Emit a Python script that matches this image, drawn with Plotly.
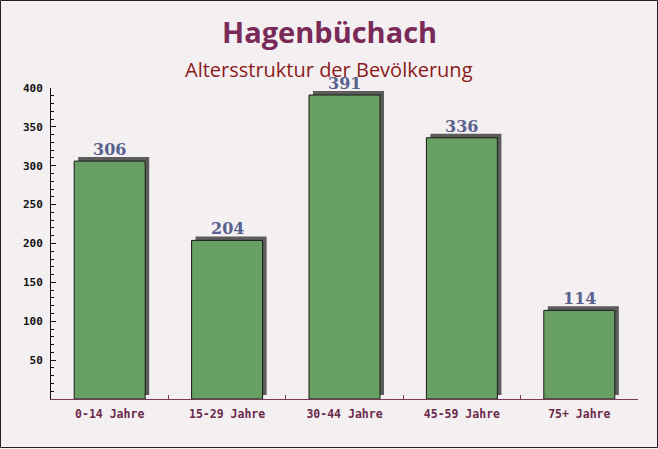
import plotly.graph_objects as go

categories = ["0-14 Jahre", "15-29 Jahre", "30-44 Jahre", "45-59 Jahre", "75+ Jahre"]
values = [306, 204, 391, 336, 114]
y_ticks = [50, 100, 150, 200, 250, 300, 350, 400]

W, H = 658, 449
ML, MR, MT, MB = 51, 20, 88, 50
PW, PH = W - ML - MR, H - MT - MB

bar_w = 0.605
shift_x = 4 / (PW / len(categories))
shift_y = 4 / (PH / 400)

fig = go.Figure()
# shadow (3D effect)
fig.add_trace(go.Bar(
    x=categories, y=values, base=shift_y, width=bar_w, offset=-bar_w / 2 + shift_x,
    marker=dict(color="#5c5c5c", line=dict(width=0)), hoverinfo="skip", showlegend=False,
))
fig.add_trace(go.Bar(
    x=categories, y=values, width=bar_w, offset=-bar_w / 2,
    marker=dict(color="#68a063", line=dict(color="#1a1a1a", width=1)), showlegend=False,
))

for c, v in zip(categories, values):
    fig.add_annotation(x=c, y=v + shift_y, text=f"<b>{v}</b>", showarrow=False,
                       yanchor="bottom", yshift=-4,
                       font=dict(family="DejaVu Serif, serif", size=16, color="#58608c"))

def px(xp):
    return (xp - ML) / PW

def py(yp):
    return (H - MB - yp) / PH

fig.add_annotation(xref="paper", yref="paper", x=px(W / 2), y=py(31), yanchor="middle",
                   text="<b>Hagenbüchach</b>", showarrow=False,
                   font=dict(family="Open Sans, DejaVu Sans, sans-serif", size=29, color="#7a2a58"))
fig.add_annotation(xref="paper", yref="paper", x=px(W / 2), y=py(70), yanchor="middle",
                   text="Altersstruktur der Bevölkerung", showarrow=False,
                   font=dict(family="Open Sans, DejaVu Sans, sans-serif", size=20, color="#8b1a1a"))

fig.add_shape(type="rect", xref="paper", yref="paper",
              x0=px(0.5), x1=px(W - 0.5), y0=py(H - 1.5), y1=py(0.5),
              line=dict(color="#222222", width=1), layer="below")

fig.update_layout(
    width=W, height=H,
    margin=dict(l=ML, r=MR, t=MT, b=MB),
    paper_bgcolor="#f4f0f2", plot_bgcolor="rgba(0,0,0,0)",
    barmode="overlay",
    xaxis=dict(
        showline=True, linecolor="#7a3a5c", linewidth=1,
        ticks="inside", ticklen=4, tickcolor="#7a3a5c", tickson="boundaries",
        showgrid=False, range=[-0.5, 4.5], ticklabelstandoff=4,
        tickfont=dict(family="DejaVu Sans Mono, monospace", size=11.5, color="#6b2a4a", weight="bold"),
    ),
    yaxis=dict(
        range=[0, 400], showline=True, linecolor="#111111", linewidth=1,
        tickvals=y_ticks, ticks="inside", ticklen=5, tickcolor="#111111",
        minor=dict(dtick=10, tick0=0, ticks="inside", ticklen=3, tickcolor="#111111"),
        showgrid=False, zeroline=False, ticklabelstandoff=5,
        tickfont=dict(family="DejaVu Sans Mono, monospace", size=11, color="#111111", weight="bold"),
    ),
)

fig.write_html("out.html", config={"displayModeBar": False},
               post_script="document.body.style.margin='0';document.body.style.padding='0';window.dispatchEvent(new Event('resize'));")
